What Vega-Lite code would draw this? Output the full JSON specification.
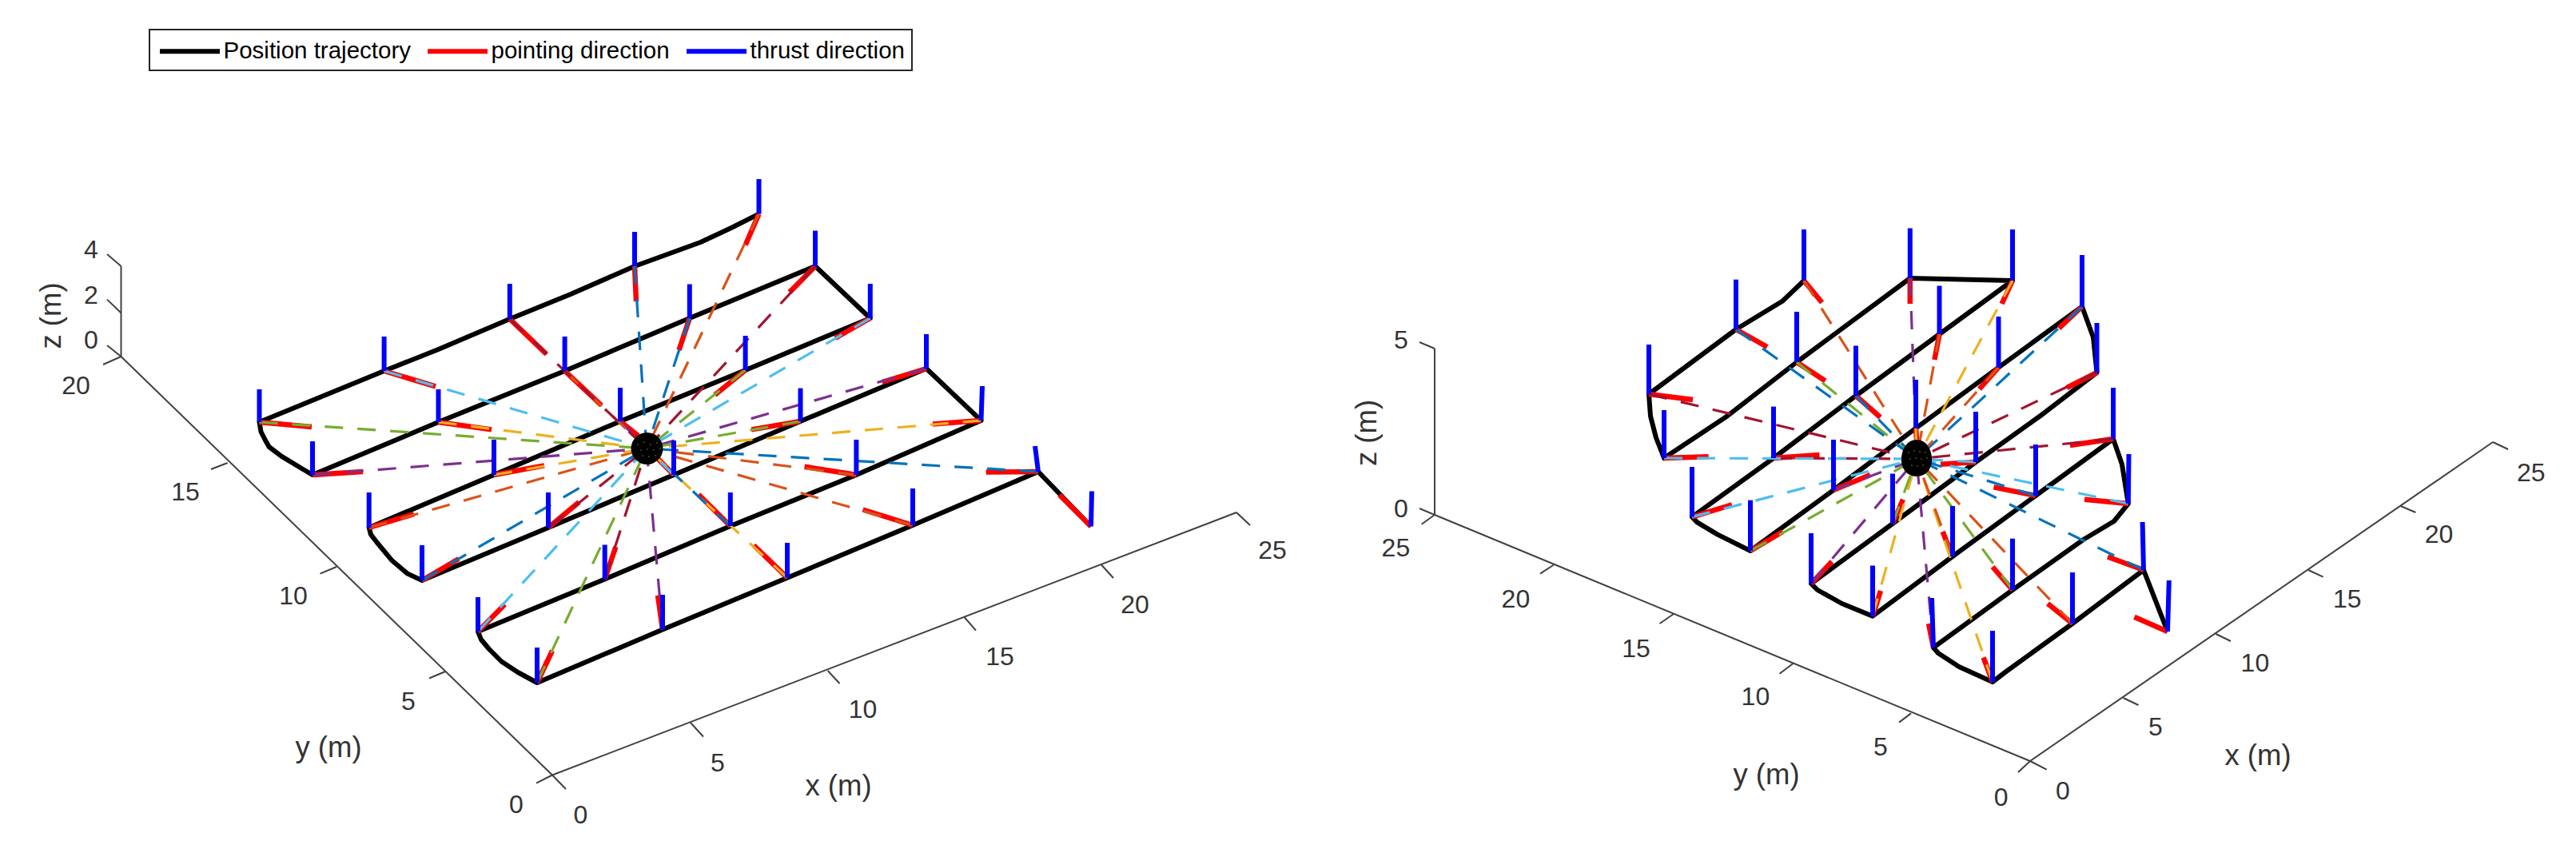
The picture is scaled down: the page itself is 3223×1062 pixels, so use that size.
{"$schema":"https://vega.github.io/schema/vega-lite/v6.json","width":3223,"height":1062,"padding":0,"autosize":{"type":"fit","contains":"padding"},"background":"white","config":{"view":{"stroke":null},"legend":{"strokeWidth":2}},
"datasets":{
"traj":[
{"p":"L","t":0,"u":1365,"v":658.5},{"p":"L","t":1,"u":1299,"v":590},{"p":"L","t":2,"u":1142,"v":657},{"p":"L","t":3,"u":985,"v":722.7},{"p":"L","t":4,"u":829,"v":787.6},{"p":"L","t":5,"u":672,"v":854},{"p":"L","t":5.5,"u":648,"v":841},{"p":"L","t":6,"u":627.5,"v":827.5},{"p":"L","t":6.5,"u":612,"v":812},{"p":"L","t":7,"u":602,"v":800},{"p":"L","t":8,"u":598,"v":790},{"p":"L","t":9,"u":756.7,"v":724.4},{"p":"L","t":10,"u":913.8,"v":658},{"p":"L","t":11,"u":1071.4,"v":594},{"p":"L","t":12,"u":1227.5,"v":526},{"p":"L","t":13,"u":1159,"v":461},{"p":"L","t":14,"u":1001.5,"v":527},{"p":"L","t":15,"u":843,"v":594},{"p":"L","t":16,"u":686,"v":660},{"p":"L","t":17,"u":528,"v":726},{"p":"L","t":17.3,"u":510,"v":717.6},{"p":"L","t":17.6,"u":490,"v":700.7},{"p":"L","t":18,"u":472,"v":679},{"p":"L","t":18.5,"u":464,"v":668.6},{"p":"L","t":19,"u":461.7,"v":660},{"p":"L","t":20,"u":618,"v":594},{"p":"L","t":21,"u":776,"v":527},{"p":"L","t":22,"u":932.6,"v":463},{"p":"L","t":23,"u":1088.8,"v":398},{"p":"L","t":24,"u":1020,"v":333},{"p":"L","t":25,"u":862.8,"v":398},{"p":"L","t":26,"u":706.6,"v":464},{"p":"L","t":27,"u":548.5,"v":528},{"p":"L","t":28,"u":391,"v":594},{"p":"L","t":28.5,"u":377.5,"v":586},{"p":"L","t":29,"u":352,"v":570.6},{"p":"L","t":29.5,"u":336.7,"v":559},{"p":"L","t":30,"u":331.6,"v":550},{"p":"L","t":30.5,"u":326.5,"v":540},{"p":"L","t":31,"u":324.5,"v":528},{"p":"L","t":32,"u":480.6,"v":464},{"p":"L","t":33,"u":548.5,"v":437},{"p":"L","t":34,"u":637.8,"v":399},{"p":"L","t":35,"u":714,"v":368},{"p":"L","t":36,"u":794,"v":333},{"p":"L","t":37,"u":876.5,"v":303},{"p":"L","t":37.5,"u":915,"v":285},{"p":"L","t":38,"u":949.5,"v":267.6},
{"p":"R","t":0,"u":2712,"v":790},{"p":"R","t":1,"u":2682,"v":713},{"p":"R","t":2,"u":2593,"v":780},{"p":"R","t":3,"u":2510,"v":840},{"p":"R","t":4,"u":2493,"v":853},{"p":"R","t":5,"u":2451,"v":834},{"p":"R","t":6,"u":2425,"v":817},{"p":"R","t":7,"u":2419,"v":810},{"p":"R","t":8,"u":2518,"v":738},{"p":"R","t":9,"u":2606.6,"v":675},{"p":"R","t":10,"u":2645,"v":652},{"p":"R","t":11,"u":2662.8,"v":630},{"p":"R","t":12,"u":2655,"v":581},{"p":"R","t":13,"u":2644,"v":549},{"p":"R","t":14,"u":2547,"v":620},{"p":"R","t":15,"u":2443,"v":696},{"p":"R","t":16,"u":2343,"v":770.7},{"p":"R","t":17,"u":2304.6,"v":755},{"p":"R","t":18,"u":2274,"v":738},{"p":"R","t":19,"u":2266,"v":730},{"p":"R","t":20,"u":2368,"v":655},{"p":"R","t":21,"u":2472,"v":578},{"p":"R","t":22,"u":2553,"v":520},{"p":"R","t":23,"u":2623.5,"v":466},{"p":"R","t":24,"u":2619,"v":422},{"p":"R","t":25,"u":2605,"v":383.5},{"p":"R","t":26,"u":2500.5,"v":459.6},{"p":"R","t":27,"u":2397,"v":535.7},{"p":"R","t":28,"u":2294,"v":613},{"p":"R","t":29,"u":2190,"v":689},{"p":"R","t":30,"u":2149,"v":668.6},{"p":"R","t":31,"u":2123.5,"v":653.4},{"p":"R","t":32,"u":2117,"v":646.6},{"p":"R","t":33,"u":2219,"v":573},{"p":"R","t":34,"u":2322,"v":495},{"p":"R","t":35,"u":2426.5,"v":418},{"p":"R","t":36,"u":2518,"v":351},{"p":"R","t":37,"u":2389.8,"v":348},{"p":"R","t":38,"u":2248,"v":453},{"p":"R","t":39,"u":2161,"v":520.5},{"p":"R","t":40,"u":2082,"v":573},{"p":"R","t":41,"u":2072,"v":547.5},{"p":"R","t":42,"u":2065,"v":520.4},{"p":"R","t":43,"u":2063,"v":493},{"p":"R","t":44,"u":2172,"v":412},{"p":"R","t":45,"u":2230,"v":376.8},{"p":"R","t":46,"u":2257,"v":351}
],
"way":[
{"p":"L","i":0,"u":1365,"v":658.5,"pu":1325.5,"pv":619,"tu":1366,"tv":614.5},
{"p":"L","i":1,"s":"c1","u":1299,"v":590,"pu":1233.7,"pv":590.5,"tu":1295,"tv":558,"cu":809,"cv":561},
{"p":"L","i":2,"s":"c2","u":1142,"v":657,"pu":1079.6,"pv":637.5,"tu":1142,"tv":611,"cu":809,"cv":561},
{"p":"L","i":3,"s":"c3","u":985,"v":722.7,"pu":943,"pv":682,"tu":985,"tv":679,"cu":809,"cv":561},
{"p":"L","i":4,"s":"c4","u":829,"v":787.6,"pu":823,"pv":744.7,"tu":829,"tv":744,"cu":809,"cv":561},
{"p":"L","i":5,"s":"c5","u":672,"v":854,"pu":691,"pv":814,"tu":672,"tv":810,"cu":809,"cv":561},
{"p":"L","i":6,"s":"c6","u":598,"v":790,"pu":631.6,"pv":756,"tu":598,"tv":747,"cu":809,"cv":561},
{"p":"L","i":7,"s":"c7","u":756.7,"v":724.4,"pu":770.4,"pv":684,"tu":756.7,"tv":681.5,"cu":809,"cv":561},
{"p":"L","i":8,"s":"c1","u":913.8,"v":658,"pu":874,"pv":618.6,"tu":913.8,"tv":616,"cu":809,"cv":561},
{"p":"L","i":9,"s":"c2","u":1071.4,"v":594,"pu":1006.6,"pv":583.7,"tu":1071.4,"tv":550,"cu":809,"cv":561},
{"p":"L","i":10,"s":"c3","u":1227.5,"v":526,"pu":1167,"pv":530.6,"tu":1229,"tv":483,"cu":809,"cv":561},
{"p":"L","i":11,"s":"c4","u":1159,"v":461,"pu":1103.6,"pv":478,"tu":1159,"tv":418,"cu":809,"cv":561},
{"p":"L","i":12,"s":"c5","u":1001.5,"v":527,"pu":940.3,"pv":537.4,"tu":1001.5,"tv":485.6,"cu":809,"cv":561},
{"p":"L","i":13,"s":"c6","u":843,"v":594,"pu":823,"pv":573.6,"tu":843,"tv":551,"cu":809,"cv":561},
{"p":"L","i":14,"s":"c7","u":686,"v":660,"pu":724.5,"pv":628,"tu":686,"tv":616,"cu":809,"cv":561},
{"p":"L","i":15,"s":"c1","u":528,"v":726,"pu":574,"pv":699,"tu":528,"tv":682,"cu":809,"cv":561},
{"p":"L","i":16,"s":"c2","u":461.7,"v":660,"pu":518,"pv":643,"tu":461.7,"tv":616,"cu":809,"cv":561},
{"p":"L","i":17,"s":"c3","u":618,"v":594,"pu":681,"pv":582.4,"tu":618,"tv":550,"cu":809,"cv":561},
{"p":"L","i":18,"s":"c4","u":776,"v":527,"pu":798.5,"pv":545,"tu":776,"tv":485,"cu":809,"cv":561},
{"p":"L","i":19,"s":"c5","u":932.6,"v":463,"pu":894.4,"pv":494,"tu":932.6,"tv":420,"cu":809,"cv":561},
{"p":"L","i":20,"s":"c6","u":1088.8,"v":398,"pu":1045,"pv":423,"tu":1088.8,"tv":355,"cu":809,"cv":561},
{"p":"L","i":21,"s":"c7","u":1020,"v":333,"pu":987.8,"pv":365.6,"tu":1020,"tv":288.6,"cu":809,"cv":561},
{"p":"L","i":22,"s":"c1","u":862.8,"v":398,"pu":849.5,"pv":438,"tu":862.8,"tv":355.5,"cu":809,"cv":561},
{"p":"L","i":23,"s":"c2","u":706.6,"v":464,"pu":752.5,"pv":507,"tu":706.6,"tv":421,"cu":809,"cv":561},
{"p":"L","i":24,"s":"c3","u":548.5,"v":528,"pu":615,"pv":537.4,"tu":548.5,"tv":487,"cu":809,"cv":561},
{"p":"L","i":25,"s":"c4","u":391,"v":594,"pu":454,"pv":590,"tu":391,"tv":552,"cu":809,"cv":561},
{"p":"L","i":26,"s":"c5","u":324.5,"v":528,"pu":390,"pv":534,"tu":324.5,"tv":487,"cu":809,"cv":561},
{"p":"L","i":27,"s":"c6","u":480.6,"v":464,"pu":545,"pv":483.4,"tu":480.6,"tv":421,"cu":809,"cv":561},
{"p":"L","i":28,"s":"c7","u":637.8,"v":399,"pu":683.7,"pv":443,"tu":637.8,"tv":355,"cu":809,"cv":561},
{"p":"L","i":29,"s":"c1","u":794,"v":333,"pu":796,"pv":377,"tu":794,"tv":290,"cu":809,"cv":561},
{"p":"L","i":30,"s":"c2","u":949.5,"v":267.6,"pu":932.6,"pv":306.5,"tu":949.5,"tv":224,"cu":809,"cv":561},
{"p":"R","i":0,"u":2712,"v":790,"pu":2670.4,"pv":771.7,"tu":2713.8,"tv":726},
{"p":"R","i":1,"s":"c1","u":2682,"v":713,"pu":2637,"pv":696.5,"tu":2680.6,"tv":653,"cu":2398,"cv":574},
{"p":"R","i":2,"s":"c2","u":2593,"v":780,"pu":2562,"pv":755,"tu":2593,"tv":716,"cu":2398,"cv":574},
{"p":"R","i":3,"s":"c3","u":2493,"v":853,"pu":2481.6,"pv":822.4,"tu":2493,"tv":789,"cu":2398,"cv":574},
{"p":"R","i":4,"s":"c4","u":2419,"v":810,"pu":2413,"pv":780,"tu":2417,"tv":748,"cu":2398,"cv":574},
{"p":"R","i":5,"s":"c5","u":2518,"v":738,"pu":2493,"pv":709,"tu":2518,"tv":673.7,"cu":2398,"cv":574},
{"p":"R","i":6,"s":"c6","u":2662.8,"v":630,"pu":2608,"pv":624.7,"tu":2663.5,"tv":568,"cu":2398,"cv":574},
{"p":"R","i":7,"s":"c7","u":2644,"v":549,"pu":2590,"pv":557,"tu":2644,"tv":485,"cu":2398,"cv":574},
{"p":"R","i":8,"s":"c1","u":2547,"v":620,"pu":2494.4,"pv":609.4,"tu":2547,"tv":556,"cu":2398,"cv":574},
{"p":"R","i":9,"s":"c2","u":2443,"v":696,"pu":2430.6,"pv":665,"tu":2443,"tv":633,"cu":2398,"cv":574},
{"p":"R","i":10,"s":"c3","u":2343,"v":770.7,"pu":2353,"pv":739,"tu":2343,"tv":707.5,"cu":2398,"cv":574},
{"p":"R","i":11,"s":"c4","u":2266,"v":730,"pu":2292,"pv":702.4,"tu":2266,"tv":667,"cu":2398,"cv":574},
{"p":"R","i":12,"s":"c5","u":2368,"v":655,"pu":2381,"pv":624.7,"tu":2368,"tv":592.5,"cu":2398,"cv":574},
{"p":"R","i":13,"s":"c6","u":2472,"v":578,"pu":2428,"pv":580.7,"tu":2472,"tv":515,"cu":2398,"cv":574},
{"p":"R","i":14,"s":"c7","u":2623.5,"v":466,"pu":2586,"pv":485,"tu":2623.5,"tv":404,"cu":2398,"cv":574},
{"p":"R","i":15,"s":"c1","u":2605,"v":383.5,"pu":2576,"pv":410.6,"tu":2605,"tv":319,"cu":2398,"cv":574},
{"p":"R","i":16,"s":"c2","u":2500.5,"v":459.6,"pu":2476.5,"pv":486.6,"tu":2500.5,"tv":396,"cu":2398,"cv":574},
{"p":"R","i":17,"s":"c3","u":2397,"v":535.7,"pu":2398,"pv":550,"tu":2397,"tv":475,"cu":2398,"cv":574},
{"p":"R","i":18,"s":"c4","u":2294,"v":613,"pu":2340,"pv":594,"tu":2294,"tv":550,"cu":2398,"cv":574},
{"p":"R","i":19,"s":"c5","u":2190,"v":689,"pu":2230.6,"pv":665,"tu":2190,"tv":625.7,"cu":2398,"cv":574},
{"p":"R","i":20,"s":"c6","u":2117,"v":646.6,"pu":2167,"pv":631.4,"tu":2117,"tv":584,"cu":2398,"cv":574},
{"p":"R","i":21,"s":"c7","u":2219,"v":573,"pu":2276.5,"pv":569,"tu":2219,"tv":508.6,"cu":2398,"cv":574},
{"p":"R","i":22,"s":"c1","u":2322,"v":495,"pu":2352.6,"pv":522,"tu":2322,"tv":432.5,"cu":2398,"cv":574},
{"p":"R","i":23,"s":"c2","u":2426.5,"v":418,"pu":2420.4,"pv":450,"tu":2426.5,"tv":357.5,"cu":2398,"cv":574},
{"p":"R","i":24,"s":"c3","u":2518,"v":351,"pu":2504.6,"pv":380,"tu":2518,"tv":287,"cu":2398,"cv":574},
{"p":"R","i":25,"s":"c4","u":2389.8,"v":348,"pu":2389.8,"pv":380,"tu":2389.8,"tv":285.5,"cu":2398,"cv":574},
{"p":"R","i":26,"s":"c5","u":2248,"v":453,"pu":2283.7,"pv":476.5,"tu":2248,"tv":390,"cu":2398,"cv":574},
{"p":"R","i":27,"s":"c6","u":2082,"v":573,"pu":2137.7,"pv":571.2,"tu":2082,"tv":513,"cu":2398,"cv":574},
{"p":"R","i":28,"s":"c7","u":2063,"v":493,"pu":2118,"pv":500,"tu":2063,"tv":431,"cu":2398,"cv":574},
{"p":"R","i":29,"s":"c1","u":2172,"v":412,"pu":2211,"pv":434,"tu":2172,"tv":349.7,"cu":2398,"cv":574},
{"p":"R","i":30,"s":"c2","u":2257,"v":351,"pu":2279.6,"pv":378.5,"tu":2257,"tv":287,"cu":2398,"cv":574}
],
"axes":[
{"u":151.5,"v":333,"u2":151.5,"v2":446},{"u":151.5,"v":333,"u2":134,"v2":318},{"u":151.5,"v":391.5,"u2":134,"v2":374.6},{"u":151.5,"v":446,"u2":134,"v2":432},{"u":151.5,"v":446,"u2":129,"v2":456},{"u":151.5,"v":446,"u2":691,"v2":969.5},{"u":284.7,"v":579,"u2":264,"v2":587},{"u":421,"v":709,"u2":400.5,"v2":717.6},{"u":557,"v":840,"u2":537,"v2":848.5},{"u":691,"v":969.5,"u2":671,"v2":979.6},{"u":691,"v":969.5,"u2":708,"v2":987},{"u":691,"v":969.5,"u2":1547,"v2":641},{"u":864,"v":904,"u2":880,"v2":921.5},{"u":1035.7,"v":839,"u2":1050.5,"v2":855},{"u":1206.6,"v":772,"u2":1221,"v2":788.6},{"u":1378,"v":706.5,"u2":1393,"v2":723},{"u":1547,"v":641,"u2":1564,"v2":657},
{"u":1795,"v":436,"u2":1795,"v2":644},{"u":1795,"v":436,"u2":1776,"v2":428},{"u":1795,"v":644,"u2":1776,"v2":636},{"u":1795,"v":644,"u2":1778.6,"v2":655.7},{"u":1795,"v":644,"u2":2540,"v2":952},{"u":1944,"v":706.5,"u2":1927,"v2":717.6},{"u":2094,"v":768,"u2":2076.5,"v2":780},{"u":2243.4,"v":830,"u2":2226.5,"v2":842.7},{"u":2391,"v":892.4,"u2":2376,"v2":903.6},{"u":2540,"v":952,"u2":2525,"v2":966},{"u":2540,"v":952,"u2":2560.7,"v2":962.7},{"u":2540,"v":952,"u2":3119,"v2":553},{"u":2656.6,"v":873,"u2":2675.5,"v2":882},{"u":2772.4,"v":793,"u2":2791,"v2":802},{"u":2888,"v":713,"u2":2906.6,"v2":721.7},{"u":3003.6,"v":633,"u2":3022.4,"v2":641},{"u":3119,"v":553,"u2":3138,"v2":562}
],
"ticks":[
{"u":114,"v":313,"t":"4"},{"u":114,"v":370,"t":"2"},{"u":114,"v":426,"t":"0"},{"u":95,"v":483,"t":"20"},{"u":232,"v":616,"t":"15"},{"u":367,"v":746,"t":"10"},{"u":511,"v":877.5,"t":"5"},{"u":646,"v":1007,"t":"0"},{"u":726.5,"v":1020,"t":"0"},{"u":898,"v":955,"t":"5"},{"u":1079.6,"v":887.7,"t":"10"},{"u":1251,"v":822,"t":"15"},{"u":1420,"v":756.5,"t":"20"},{"u":1592,"v":689,"t":"25"},
{"u":1753,"v":426,"t":"5"},{"u":1753,"v":637,"t":"0"},{"u":1746.4,"v":686,"t":"25"},{"u":1896.4,"v":749.7,"t":"20"},{"u":2047,"v":812.3,"t":"15"},{"u":2196.4,"v":872,"t":"10"},{"u":2353,"v":935,"t":"5"},{"u":2503.6,"v":998,"t":"0"},{"u":2581,"v":990.4,"t":"0"},{"u":2697,"v":910,"t":"5"},{"u":2821.4,"v":830,"t":"10"},{"u":2936.7,"v":749.7,"t":"15"},{"u":3051.5,"v":669,"t":"20"},{"u":3166.8,"v":591.5,"t":"25"}
],
"titles":[{"u":411,"v":936,"t":"y (m)"},{"u":1049,"v":984,"t":"x (m)"},{"u":2210,"v":969.5,"t":"y (m)"},{"u":2825,"v":946,"t":"x (m)"}],
"ztitles":[{"u":65,"v":395,"t":"z (m)"},{"u":1711,"v":541.5,"t":"z (m)"}],
"targets":[{"p":"L","u":809.5,"v":561},{"p":"R","u":2398,"v":573}],
"mesh":[{"u":798,"v":556},{"u":806,"v":553},{"u":814,"v":556},{"u":822,"v":554},{"u":802,"v":563},{"u":810,"v":562},{"u":818,"v":563},{"u":826,"v":561},{"u":804,"v":570},{"u":812,"v":571},{"u":820,"v":570},{"u":2388,"v":566},{"u":2395,"v":564},{"u":2402,"v":565},{"u":2409,"v":566},{"u":2390,"v":574},{"u":2397,"v":573},{"u":2404,"v":574},{"u":2411,"v":573},{"u":2392,"v":582},{"u":2399,"v":583},{"u":2406,"v":582}]
},
"layer":[
{"data":{"name":"axes"},"mark":{"type":"rule","color":"#404040","strokeWidth":2},"encoding":{"x":{"field":"u","type":"quantitative","scale":{"domain":[0,3223]},"axis":null},"y":{"field":"v","type":"quantitative","scale":{"domain":[1062,0]},"axis":null},"x2":{"field":"u2"},"y2":{"field":"v2"}}},
{"data":{"name":"traj"},"mark":{"type":"line","strokeWidth":6,"strokeJoin":"round","strokeCap":"butt"},"encoding":{"x":{"field":"u","type":"quantitative","scale":{"domain":[0,3223]},"axis":null},"y":{"field":"v","type":"quantitative","scale":{"domain":[1062,0]},"axis":null},"order":{"field":"t","type":"quantitative"},"detail":{"field":"p"},"stroke":{"datum":"Position trajectory","type":"nominal","scale":{"domain":["Position trajectory","pointing direction","thrust direction"],"range":["#000000","#ff0000","#0000ff"]},"legend":{"title":null,"orient":"none","legendX":187,"legendY":37,"direction":"horizontal","columns":3,"symbolType":"M-2.5,0H2.5","symbolSize":900,"symbolOffset":23.5,"symbolStrokeWidth":6,"labelFont":"Liberation Sans","labelFontSize":29.5,"labelColor":"#000000","labelLimit":500,"labelOffset":24,"columnPadding":9,"padding":9,"strokeColor":"#262626","fillColor":"#ffffff"}}}},
{"data":{"name":"way"},"mark":{"type":"rule","strokeWidth":6.5},"encoding":{"x":{"field":"u","type":"quantitative","scale":{"domain":[0,3223]},"axis":null},"y":{"field":"v","type":"quantitative","scale":{"domain":[1062,0]},"axis":null},"x2":{"field":"pu"},"y2":{"field":"pv"},"stroke":{"datum":"pointing direction","type":"nominal"}}},
{"data":{"name":"way"},"transform":[{"filter":"datum.i > 0"}],"mark":{"type":"rule","strokeWidth":3.2,"strokeDash":[23,18]},"encoding":{"x":{"field":"u","type":"quantitative","scale":{"domain":[0,3223]},"axis":null},"y":{"field":"v","type":"quantitative","scale":{"domain":[1062,0]},"axis":null},"x2":{"field":"cu"},"y2":{"field":"cv"},"color":{"field":"s","type":"nominal","legend":null,"scale":{"domain":["c1","c2","c3","c4","c5","c6","c7"],"range":["#0072BD","#D95319","#EDB120","#7E2F8E","#77AC30","#4DBEEE","#A2142F"]}}}},
{"data":{"name":"way"},"mark":{"type":"rule","strokeWidth":6},"encoding":{"x":{"field":"u","type":"quantitative","scale":{"domain":[0,3223]},"axis":null},"y":{"field":"v","type":"quantitative","scale":{"domain":[1062,0]},"axis":null},"x2":{"field":"tu"},"y2":{"field":"tv"},"stroke":{"datum":"thrust direction","type":"nominal"}}},
{"data":{"name":"targets"},"transform":[{"filter":"datum.p == 'L'"}],"mark":{"type":"point","filled":true,"color":"#000000","opacity":1,"shape":"circle","size":1590},"encoding":{"x":{"field":"u","type":"quantitative","scale":{"domain":[0,3223]},"axis":null},"y":{"field":"v","type":"quantitative","scale":{"domain":[1062,0]},"axis":null}}},
{"data":{"name":"targets"},"transform":[{"filter":"datum.p == 'R'"}],"mark":{"type":"point","filled":true,"color":"#000000","opacity":1,"shape":"M0,-1 C.5,-1 .83,-.5 .83,.1 C.83,.6 .5,1 0,1 C-.5,1 -.83,.6 -.83,.1 C-.83,-.5 -.5,-1 0,-1Z","size":2116},"encoding":{"x":{"field":"u","type":"quantitative","scale":{"domain":[0,3223]},"axis":null},"y":{"field":"v","type":"quantitative","scale":{"domain":[1062,0]},"axis":null}}},
{"data":{"name":"mesh"},"mark":{"type":"point","filled":true,"color":"#4f4612","opacity":1,"shape":"circle","size":5},"encoding":{"x":{"field":"u","type":"quantitative","scale":{"domain":[0,3223]},"axis":null},"y":{"field":"v","type":"quantitative","scale":{"domain":[1062,0]},"axis":null}}},
{"data":{"name":"ticks"},"mark":{"type":"text","font":"Liberation Sans","fontSize":32,"color":"#333333","align":"center","baseline":"middle"},"encoding":{"x":{"field":"u","type":"quantitative","scale":{"domain":[0,3223]},"axis":null},"y":{"field":"v","type":"quantitative","scale":{"domain":[1062,0]},"axis":null},"text":{"field":"t"}}},
{"data":{"name":"titles"},"mark":{"type":"text","font":"Liberation Sans","fontSize":36.5,"color":"#333333","align":"center","baseline":"middle"},"encoding":{"x":{"field":"u","type":"quantitative","scale":{"domain":[0,3223]},"axis":null},"y":{"field":"v","type":"quantitative","scale":{"domain":[1062,0]},"axis":null},"text":{"field":"t"}}},
{"data":{"name":"ztitles"},"mark":{"type":"text","font":"Liberation Sans","fontSize":36.5,"color":"#333333","align":"center","baseline":"middle","angle":270},"encoding":{"x":{"field":"u","type":"quantitative","scale":{"domain":[0,3223]},"axis":null},"y":{"field":"v","type":"quantitative","scale":{"domain":[1062,0]},"axis":null},"text":{"field":"t"}}}
]}
